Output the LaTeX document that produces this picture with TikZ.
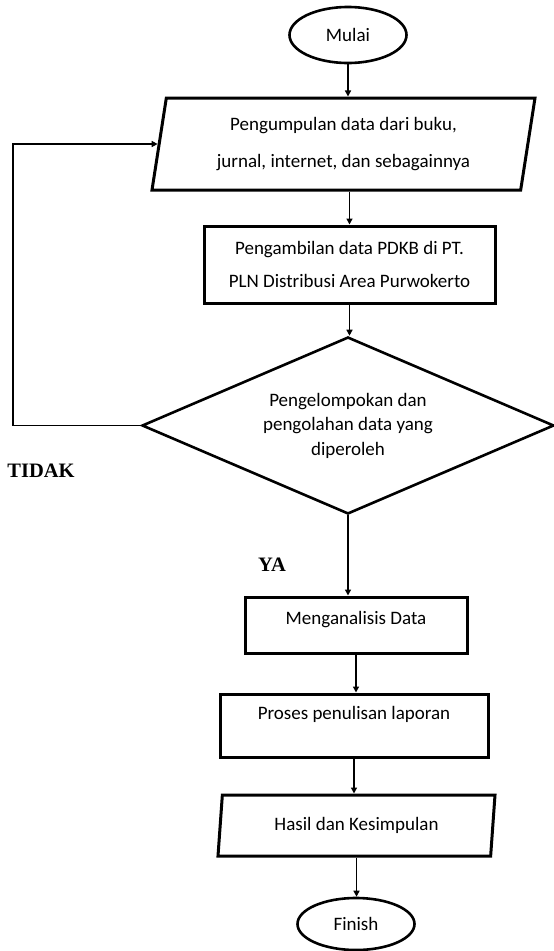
\documentclass[tikz,border=0pt]{standalone}
\usepackage{fontspec}
\setmainfont{Carlito}
\newfontfamily\labelfont{Liberation Serif}
\usetikzlibrary{shapes.geometric,arrows.meta}

\begin{document}
\begin{tikzpicture}[x=1pt,y=-1pt,inner sep=0pt,font=\fontsize{19}{23}\selectfont,
  >={Triangle[length=6pt,width=6pt]},
  box/.style={rectangle,draw,line width=3pt,align=center},
  io/.style={trapezium,trapezium left angle=75,trapezium right angle=105,trapezium stretches body,draw,line width=3pt,align=center},
  term/.style={ellipse,draw,line width=2.6pt,minimum width=117pt},
  flow/.style={->,line width=1.4pt},
  yesno/.style={font=\labelfont\bfseries\fontsize{20.5}{24}\selectfont}]
\useasboundingbox (0,0) rectangle (554,951);
\node[term,minimum height=56pt] (mulai) at (348,35) {Mulai};
\node[io,minimum width=383pt,minimum height=92pt] (kumpul) at (343.5,144) {Pengumpulan data dari buku,\\[14pt] jurnal, internet, dan sebagainnya};
\node[box,minimum width=291pt,minimum height=77pt] (ambil) at (349.5,264.5) {Pengambilan data PDKB di PT.\\[10pt] PLN Distribusi Area Purwokerto};
\node[diamond,aspect=2.33,draw,line width=2.6pt,minimum width=412pt,minimum height=177pt,align=center] (olah) at (348,425.5) {Pengelompokan dan\\[1.5pt] pengolahan data yang\\[1.5pt] diperoleh};
\node[box,minimum width=222pt,minimum height=56pt,text height=14pt,text depth=15pt] (analisis) at (356,625) {Menganalisis Data};
\node[box,minimum width=268pt,minimum height=63pt,text height=14pt,text depth=26pt] (proses) at (354,725.5) {Proses penulisan laporan};
\node[io,minimum width=277pt,minimum height=61pt] (hasil) at (356.5,825.5) {Hasil dan Kesimpulan};
\node[term,minimum height=52pt] (finish) at (356,924) {Finish};
\node[yesno] (tidak) at (41,471) {TIDAK};
\node[yesno] (ya) at (272,565) {YA};
\coordinate (belok) at (13,300);
\draw[flow] (mulai) -- (mulai |- kumpul.north);
\draw[flow] (ambil |- kumpul.south) -- (ambil);
\draw[flow] (ambil.south) -- (ambil.south |- olah.north);
\draw[flow] (olah) -- (olah |- analisis.north);
\draw[flow] (analisis.south) -- (analisis.south |- proses.north);
\draw[flow] (proses.south) -- (proses.south |- hasil.north);
\draw[flow] (hasil.south) -- (hasil.south |- finish.north);
\draw[flow,line width=1.5pt] (olah.west) -| (belok) |- (kumpul.west);
\end{tikzpicture}
\end{document}
